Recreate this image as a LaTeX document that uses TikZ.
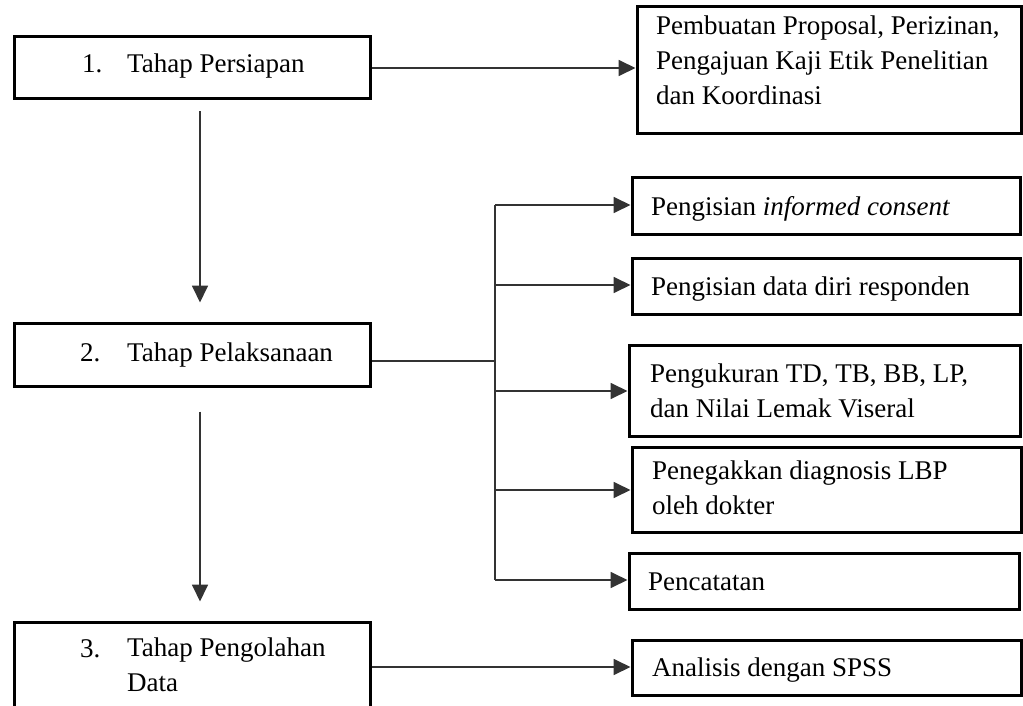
\documentclass[tikz,border=0pt]{standalone}
\usepackage{fontspec}
\setmainfont{Liberation Serif}
\usetikzlibrary{arrows.meta,calc}
\begin{document}
\begin{tikzpicture}[x=1pt,y=-1pt,
  box/.style={draw=black,line width=3pt,rectangle,inner sep=0pt},
  txt/.style={inner sep=0pt,anchor=base west,align=left,text=black,
    font=\fontsize{27}{35}\selectfont},
  conn/.style={draw=black!80,line width=1.8pt,-{Triangle[length=17pt,width=16pt]}},
  ln/.style={draw=black!80,line width=1.8pt}]
\useasboundingbox (0,0) rectangle (1023,706);
\clip (0,0) rectangle (1023,706);
% left column boxes
\node[box,minimum width=356pt,minimum height=62pt] (b1) at (192,68) {};
\node[box,minimum width=356pt,minimum height=63pt] (b2) at (192,354.5) {};
\node[box,minimum width=356pt,minimum height=90pt] (b3) at (192,667) {};
\node[txt] (t1n) at (82,73) {1.};
\node[txt] (t1) at (127,73) {Tahap Persiapan};
\node[txt] (t2n) at (80,361) {2.};
\node[txt] (t2) at (127,361) {Tahap Pelaksanaan};
\node[txt] (t3n) at (80,657) {3.};
\node[txt] (t3) at (127,691) {Tahap Pengolahan\\Data};
% right column boxes
\node[box,minimum width=384pt,minimum height=127pt] (bP) at (829,70.5) {};
\node[box,minimum width=388pt,minimum height=56pt] (bA) at (826,206) {};
\node[box,minimum width=388pt,minimum height=56pt] (bB) at (826,286) {};
\node[box,minimum width=391pt,minimum height=91pt] (bC) at (824.5,390.5) {};
\node[box,minimum width=389pt,minimum height=85pt] (bD) at (826.5,489.5) {};
\node[box,minimum width=390pt,minimum height=56pt] (bE) at (824,581) {};
\node[box,minimum width=389pt,minimum height=55pt] (bF) at (826.5,667.5) {};
\node[txt] (tP) at (656,105) {Pembuatan Proposal, Perizinan,\\Pengajuan Kaji Etik Penelitian\\dan Koordinasi};
\node[txt] (tA) at (651,215) {Pengisian \textit{informed consent}};
\node[txt] (tB) at (651,295) {Pengisian data diri responden};
\node[txt] (tC) at (650,417) {Pengukuran TD, TB, BB, LP,\\dan Nilai Lemak Viseral};
\node[txt] (tD) at (652,514) {Penegakkan diagnosis LBP\\oleh dokter};
\node[txt] (tE) at (648,590) {Pencatatan};
\node[txt] (tF) at (652,676) {Analisis dengan SPSS};
% connectors
\draw[conn] (b1.east) -- (b1.east -| bP.west);
\draw[conn,shorten <=11pt,shorten >=19pt] ([xshift=8pt]b1.south) -- ([xshift=8pt]b2.north);
\draw[conn,shorten <=24pt,shorten >=19pt] ([xshift=8pt]b2.south) -- ([xshift=8pt]b3.north);
\coordinate (br) at (495,361);
\coordinate (jA) at (495,205);
\coordinate (jB) at (495,285);
\coordinate (jC) at (495,391);
\coordinate (jD) at (495,490);
\coordinate (jE) at (495,580);
\draw[ln] (b2.east |- br) -- (br);
\draw[ln] (jA) -- (jE);
\draw[conn] (jA) -- (jA -| bA.west);
\draw[conn] (jB) -- (jB -| bB.west);
\draw[conn] (jC) -- (jC -| bC.west);
\draw[conn] (jD) -- (jD -| bD.west);
\draw[conn] (jE) -- (jE -| bE.west);
\draw[conn] (b3.east) -- (b3.east -| bF.west);
\end{tikzpicture}
\end{document}
